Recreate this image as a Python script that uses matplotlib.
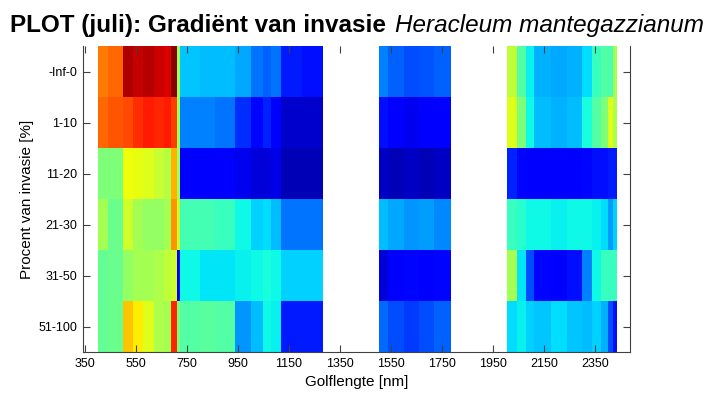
import numpy as np
import matplotlib
matplotlib.use("Agg")
import matplotlib.pyplot as plt

plt.rcParams['font.family'] = ['Liberation Sans', 'DejaVu Sans']

# invasion classes (rows, top to bottom)
classes = ['-Inf-0', '1-10', '11-20', '21-30', '31-50', '51-100']

# wavelength bin edges [nm] for the three measured ranges
seg1_edges = [400, 440, 500, 540, 580, 620, 660, 690, 710, 725, 800, 860,
              940, 1000, 1050, 1080, 1120, 1200, 1285]
seg2_edges = [1505, 1540, 1600, 1660, 1720, 1785]
seg3_edges = [2005, 2045, 2080, 2110, 2180, 2240, 2300, 2340, 2375, 2400,
              2420, 2437]

# scaled gradient values (0..1) per class
seg1_vals = [
    [0.78, 0.80, 0.96, 0.94, 0.95, 0.93, 0.92, 0.99, 0.55, 0.32, 0.31, 0.31, 0.29, 0.24, 0.22, 0.24, 0.15, 0.14],
    [0.80, 0.82, 0.83, 0.86, 0.88, 0.87, 0.88, 0.84, 0.55, 0.25, 0.25, 0.24, 0.17, 0.13, 0.16, 0.12, 0.07, 0.07],
    [0.50, 0.50, 0.64, 0.63, 0.62, 0.59, 0.57, 0.72, 0.55, 0.12, 0.12, 0.12, 0.10, 0.08, 0.08, 0.09, 0.05, 0.05],
    [0.55, 0.48, 0.60, 0.55, 0.53, 0.53, 0.55, 0.75, 0.60, 0.43, 0.43, 0.42, 0.37, 0.33, 0.34, 0.31, 0.24, 0.24],
    [0.47, 0.48, 0.53, 0.55, 0.55, 0.56, 0.58, 0.60, 0.10, 0.37, 0.35, 0.35, 0.36, 0.37, 0.38, 0.37, 0.33, 0.33],
    [0.47, 0.48, 0.70, 0.66, 0.62, 0.56, 0.55, 0.87, 0.50, 0.45, 0.46, 0.45, 0.27, 0.31, 0.37, 0.36, 0.15, 0.15],
]
seg2_vals = [
    [0.25, 0.22, 0.20, 0.21, 0.22],
    [0.14, 0.12, 0.10, 0.11, 0.12],
    [0.06, 0.05, 0.06, 0.05, 0.06],
    [0.31, 0.29, 0.27, 0.28, 0.26],
    [0.08, 0.12, 0.13, 0.12, 0.13],
    [0.23, 0.20, 0.18, 0.20, 0.22],
]
seg3_vals = [
    [0.58, 0.45, 0.36, 0.30, 0.29, 0.30, 0.34, 0.42, 0.45, 0.44, 0.55],
    [0.62, 0.50, 0.37, 0.31, 0.30, 0.31, 0.38, 0.45, 0.50, 0.62, 0.56],
    [0.16, 0.13, 0.12, 0.11, 0.12, 0.12, 0.13, 0.14, 0.14, 0.15, 0.15],
    [0.42, 0.40, 0.37, 0.37, 0.36, 0.37, 0.37, 0.36, 0.34, 0.28, 0.33],
    [0.55, 0.35, 0.20, 0.13, 0.12, 0.14, 0.25, 0.37, 0.42, 0.42, 0.42],
    [0.34, 0.36, 0.33, 0.32, 0.34, 0.32, 0.31, 0.33, 0.30, 0.20, 0.14],
]

xticks = [350, 550, 750, 950, 1150, 1350, 1550, 1750, 1950, 2150, 2350]

fig = plt.figure(figsize=(7.12, 3.94), dpi=100)
ax = fig.add_axes([83/712, 42/394, 547/712, 306/394])

yedges = np.arange(len(classes) + 1)
for edges, vals in [(seg1_edges, seg1_vals), (seg2_edges, seg2_vals), (seg3_edges, seg3_vals)]:
    ax.pcolormesh(edges, yedges, np.array(vals), cmap='jet', vmin=0, vmax=1,
                  shading='flat', edgecolor='none', antialiased=False)

ax.set_xlim(343, 2488)
ax.set_ylim(len(classes), 0)
ax.set_xticks(xticks)
ax.set_yticks(np.arange(len(classes)) + 0.5)
ax.set_yticklabels(classes)
ax.tick_params(direction='in', length=5, width=0.8, color='#404040',
               labelsize=9, top=True, right=True, pad=4)
for side in ['left', 'right', 'bottom']:
    ax.spines[side].set_color('#404040')
    ax.spines[side].set_linewidth(0.8)
ax.spines['top'].set_visible(False)

ax.set_xlabel('Golflengte [nm]', fontsize=11, labelpad=4)
ax.set_ylabel('Procent van invasie [%]', fontsize=11, labelpad=3)

# title: bold part followed by italic species name
t1 = fig.text(10/712, 1 - 32/394, 'PLOT (juli): Gradiënt van invasie',
              fontsize=17.5, fontweight='bold', va='baseline', ha='left')
fig.canvas.draw()
bb = t1.get_window_extent()
fig.text((bb.x1 + 9)/712, 1 - 32/394, 'Heracleum mantegazzianum',
         fontsize=17.5, fontstyle='italic', va='baseline', ha='left')

fig.savefig('out.png', dpi=100)
